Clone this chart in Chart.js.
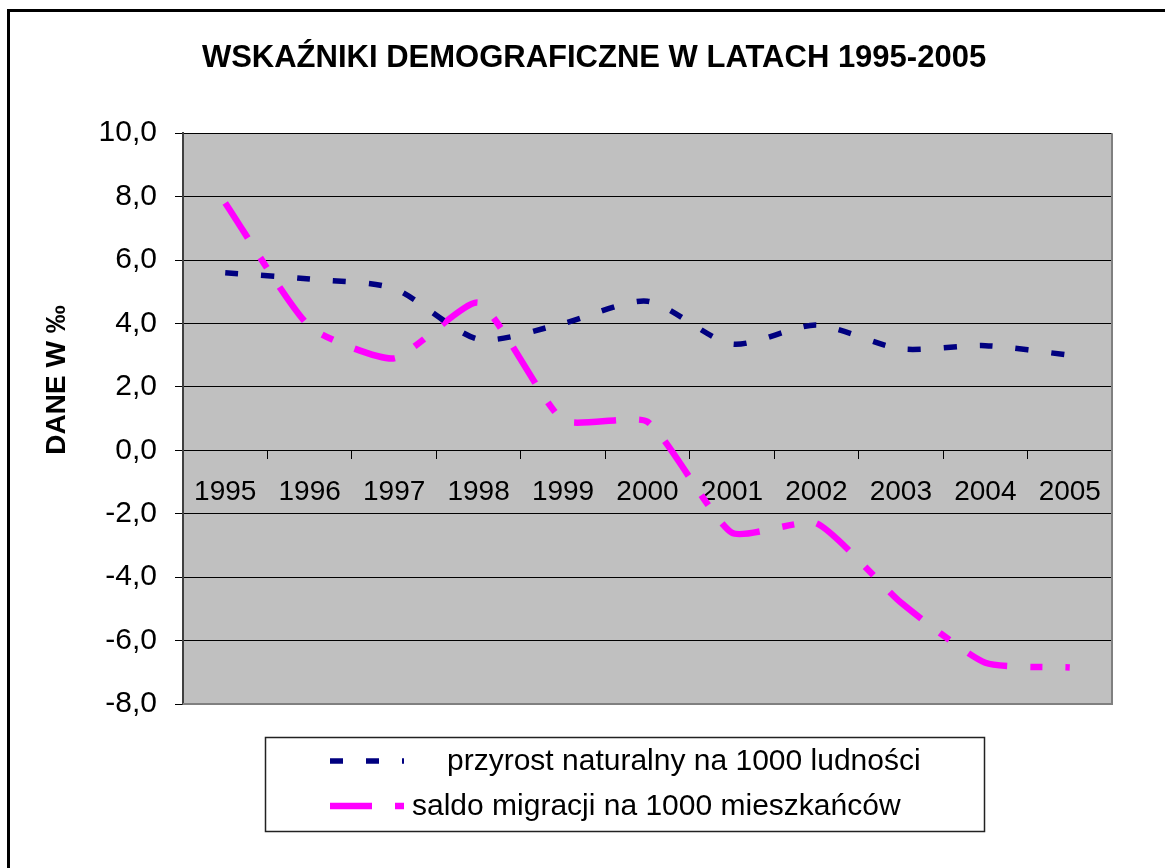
<!DOCTYPE html>
<html>
<head>
<meta charset="utf-8">
<title>Wskaźniki demograficzne</title>
<script src="https://cdn.jsdelivr.net/npm/chart.js@4.4.1/dist/chart.umd.min.js"></script>
<style>
    html, body { margin: 0; padding: 0; background: #fff; }
    #wrap { width: 1165px; height: 868px; }
</style>
</head>
<body>
<div id="wrap"><canvas id="chart" width="1165" height="868"></canvas></div>
<script>
// Data
const years = ['1995', '1996', '1997', '1998', '1999', '2000', '2001', '2002', '2003', '2004', '2005'];
const przyrost = [5.6, 5.4, 5.1, 3.5, 4.0, 4.7, 3.35, 3.95, 3.2, 3.3, 3.0];
const saldo = [7.8, 3.9, 2.9, 4.65, 0.95, 0.9, -2.6, -2.3, -4.8, -6.7, -6.85];
const yTicks = [10, 8, 6, 4, 2, 0, -2, -4, -6, -8];
const seriesLabels = ['przyrost naturalny na 1000 ludności', 'saldo migracji na 1000 mieszkańców'];
const chartTitle = 'WSKAŹNIKI DEMOGRAFICZNE W LATACH 1995-2005';
const yAxisTitle = 'DANE W ‰';

const FONT = "'Liberation Sans', Arial, sans-serif";

// Gray plot area, frame, rotated axis title and the boxed legend
const decorations = {
    id: 'decorations',
    beforeDraw(chart) {
        const { ctx, chartArea: a } = chart;
        ctx.save();
        ctx.fillStyle = '#c0c0c0';
        ctx.fillRect(a.left, a.top, a.right - a.left, a.bottom - a.top);
        ctx.restore();
    },
    beforeDatasetsDraw(chart) {
        const { ctx, chartArea: a } = chart;
        ctx.save();
        ctx.strokeStyle = '#808080';
        ctx.lineWidth = 2;
        ctx.beginPath();
        ctx.moveTo(a.right, a.top);
        ctx.lineTo(a.right, a.bottom);
        ctx.lineTo(a.left, a.bottom);
        ctx.stroke();
        ctx.restore();
    },
    afterDraw(chart) {
        const { ctx } = chart;
        ctx.save();

        // outer frame (top and left only)
        ctx.fillStyle = '#000';
        ctx.fillRect(7, 9, chart.width - 7, 3);
        ctx.fillRect(7, 9, 3, chart.height - 9);

        // y axis title
        ctx.save();
        ctx.translate(57, 380);
        ctx.rotate(-Math.PI / 2);
        ctx.font = 'bold 28px ' + FONT;
        ctx.textAlign = 'center';
        ctx.textBaseline = 'middle';
        ctx.fillText(yAxisTitle, 0, 0);
        ctx.restore();

        // legend box
        ctx.fillStyle = '#fff';
        ctx.fillRect(265, 737, 720, 95);
        ctx.strokeStyle = '#222';
        ctx.lineWidth = 1.5;
        ctx.strokeRect(265.5, 737.5, 719, 94);

        const rows = [{ y: 761, textX: 447 }, { y: 806, textX: 412 }];
        chart.data.datasets.forEach((ds, i) => {
            const row = rows[i];
            ctx.strokeStyle = ds.borderColor;
            ctx.lineWidth = ds.borderWidth;
            ctx.lineCap = 'butt';
            ctx.setLineDash(ds.borderDash);
            ctx.beginPath();
            ctx.moveTo(330, row.y);
            ctx.lineTo(404, row.y);
            ctx.stroke();
            ctx.setLineDash([]);

            ctx.fillStyle = '#000';
            ctx.font = '30px ' + FONT;
            ctx.textAlign = 'left';
            ctx.textBaseline = 'middle';
            ctx.fillText(ds.label, row.textX, row.y + 1);
        });

        ctx.restore();
    }
};

new Chart(document.getElementById('chart'), {
    type: 'line',
    data: {
        labels: years,
        datasets: [{
            label: seriesLabels[0],
            data: przyrost,
            borderColor: '#000080',
            borderWidth: 5.5,
            borderDash: [13, 23],
            borderCapStyle: 'butt',
            pointRadius: 0,
            tension: 0.25
        }, {
            label: seriesLabels[1],
            data: saldo,
            borderColor: '#ff00ff',
            borderWidth: 6.5,
            borderDash: [42, 23, 12, 23],
            borderCapStyle: 'butt',
            pointRadius: 0,
            tension: 0.18
        }]
    },
    options: {
        responsive: false,
        animation: false,
        layout: {
            padding: { left: 76, right: 53, top: 0, bottom: 164 }
        },
        plugins: {
            legend: { display: false },
            tooltip: { enabled: false },
            title: {
                display: true,
                text: chartTitle,
                color: '#000',
                font: { family: FONT, size: 31, weight: 'bold', lineHeight: 1.2 },
                padding: { top: 40, bottom: 56 }
            }
        },
        scales: {
            x: {
                position: { y: 0 },
                offset: true,
                grid: {
                    offset: true,
                    drawOnChartArea: false,
                    drawTicks: true,
                    tickLength: 8,
                    tickColor: '#000'
                },
                border: { display: true, color: '#000', width: 1 },
                ticks: {
                    color: '#000',
                    font: { family: FONT, size: 28 },
                    padding: 17,
                    maxRotation: 0,
                    autoSkip: false
                }
            },
            y: {
                min: -8,
                max: 10,
                afterBuildTicks(scale) {
                    scale.ticks = yTicks.map(v => ({ value: v }));
                },
                afterFit(scale) {
                    scale.width = 107;
                },
                grid: {
                    color: '#000',
                    lineWidth: 1,
                    tickLength: 8,
                    tickColor: '#000'
                },
                border: { display: true, color: '#404040', width: 2 },
                ticks: {
                    color: '#000',
                    font: { family: FONT, size: 30 },
                    padding: 18,
                    callback: v => v.toFixed(1).replace('.', ',')
                }
            }
        }
    },
    plugins: [decorations]
});
</script>
</body>
</html>
